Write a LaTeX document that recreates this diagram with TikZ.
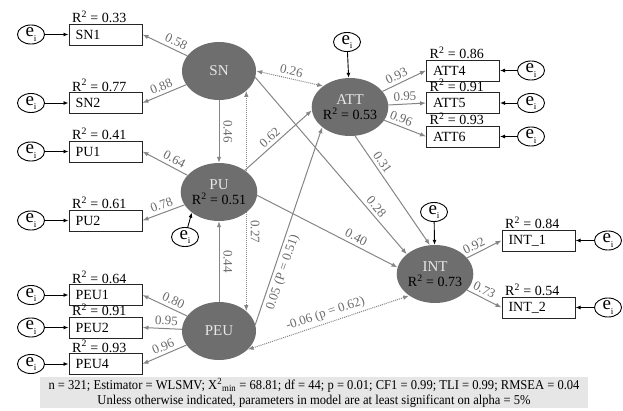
\documentclass[tikz,border=0pt]{standalone}
\usepackage{fontspec}
\setmainfont{Liberation Serif}
\newfontfamily\condfont[FakeStretch=0.93]{Liberation Serif}
\usetikzlibrary{arrows.meta,shapes.geometric,backgrounds}
\definecolor{latfill}{HTML}{6E6E6E}
\definecolor{latname}{HTML}{E8E8E8}
\definecolor{pathgray}{HTML}{858585}
\definecolor{labgray}{HTML}{6A6A6A}
\definecolor{footfill}{HTML}{E6E6E6}
\newcommand\errlab{{\fontsize{19}{19}\selectfont e}\raisebox{-4.5pt}{\fontsize{9}{9}\selectfont i}}
\newcommand\lname[1]{{\fontsize{15}{15}\selectfont\textcolor{latname}{#1}}}
\newcommand\rsq[1]{R\textsuperscript{2} = #1}
\begin{document}
\begin{tikzpicture}[x=1pt,y=-1pt,
  lat/.style={ellipse, fill=latfill, minimum width=74pt, minimum height=58pt, inner sep=0pt, align=center, font=\fontsize{14}{15}\selectfont},
  obs/.style={draw=black!85, line width=1pt, rectangle, minimum height=21pt, text width=60pt, inner xsep=6.5pt, inner ysep=0pt, align=left, font=\fontsize{14}{14}\selectfont},
  rlab/.style={anchor=south west, inner sep=0pt, xshift=3.5pt, yshift=0.5pt, font=\fontsize{14}{14}\selectfont},
  err/.style={ellipse, draw=black, line width=0.9pt, minimum width=27pt, minimum height=19pt, inner sep=0pt},
  pth/.style={draw=pathgray, line width=1pt, -{Latex[length=6pt,width=4.5pt]}},
  cov/.style={draw=pathgray, line width=1pt, densely dotted, {Latex[length=6pt,width=4.5pt]}-{Latex[length=6pt,width=4.5pt]}},
  earr/.style={draw=black, line width=0.9pt, -{Latex[length=5pt,width=4pt]}},
  coef/.style={text=labgray, font=\fontsize{13}{13}\selectfont, inner sep=3pt},
  coefv/.style={coef, rotate=-90, anchor=south, inner ysep=4pt},
]
\useasboundingbox (0,0) rectangle (623,410);

% latent variables
\node[lat] (SN) at (219,71) {\lname{SN}};
\node[lat] (PU) at (219,192) {\lname{PU}\\\rsq{0.51}};
\node[lat] (PEU) at (219,331) {\lname{PEU}};
\node[lat] (ATT) at (350,107) {\lname{ATT}\\\rsq{0.53}};
\node[lat] (INT) at (435,274) {\lname{INT}\\\rsq{0.73}};

% indicators
\node[obs, label={[rlab]north west:\rsq{0.33}}] (SN1) at (105.5,34.5) {SN1};
\node[obs, label={[rlab]north west:\rsq{0.77}}] (SN2) at (105.5,103) {SN2};
\node[obs, label={[rlab]north west:\rsq{0.41}}] (PU1) at (105.5,151.5) {PU1};
\node[obs, label={[rlab]north west:\rsq{0.61}}] (PU2) at (105.5,220.5) {PU2};
\node[obs, label={[rlab]north west:\rsq{0.64}}] (PEU1) at (105.5,295) {PEU1};
\node[obs, label={[rlab]north west:\rsq{0.91}}] (PEU2) at (105.5,327.5) {PEU2};
\node[obs, label={[rlab]north west:\rsq{0.93}}] (PEU4) at (105.5,364) {PEU4};
\node[obs, label={[rlab]north west:\rsq{0.86}}] (ATT4) at (463,70.5) {ATT4};
\node[obs, label={[rlab]north west:\rsq{0.91}}] (ATT5) at (463,103) {ATT5};
\node[obs, label={[rlab]north west:\rsq{0.93}}] (ATT6) at (463,136.5) {ATT6};
\node[obs, label={[rlab]north west:\rsq{0.84}}] (INTa) at (538.5,240.5) {INT\_1};
\node[obs, label={[rlab]north west:\rsq{0.54}}] (INTb) at (538.5,307.5) {INT\_2};

% error terms
\node[err] (eSN1) at (31,34.5) {\errlab};
\node[err] (eSN2) at (31,103) {\errlab};
\node[err] (ePU1) at (31,151.5) {\errlab};
\node[err] (ePU2) at (31,220.5) {\errlab};
\node[err] (ePEU1) at (31,295) {\errlab};
\node[err] (ePEU2) at (31,327.5) {\errlab};
\node[err] (ePEU4) at (31,364) {\errlab};
\node[err] (eATT4) at (531,70.5) {\errlab};
\node[err] (eATT5) at (531,103) {\errlab};
\node[err] (eATT6) at (531,136.5) {\errlab};
\node[err] (eINTa) at (608,240.5) {\errlab};
\node[err] (eINTb) at (608,307.5) {\errlab};
\node[err] (eATT) at (347,42) {\errlab};
\node[err] (eINT) at (434,212) {\errlab};
\node[err] (ePU) at (185,237) {\errlab};

% footer
\node[fill=footfill, minimum width=548pt, minimum height=31pt, inner sep=0pt, align=center, font=\condfont\fontsize{13.5}{15}\selectfont] (foot) at (314,392.5)
  {n = 321; Estimator = WLSMV; X\textsuperscript{2}\textsubscript{min} = 68.81; df = 44; p = 0.01; CF1 = 0.99; TLI = 0.99; RMSEA = 0.04\\
   Unless otherwise indicated, parameters in model are at least significant on alpha = 5\%};

\begin{scope}[on background layer]
% error arrows
\draw[earr] (eSN1) -- (SN1);
\draw[earr] (eSN2) -- (SN2);
\draw[earr] (ePU1) -- (PU1);
\draw[earr] (ePU2) -- (PU2);
\draw[earr] (ePEU1) -- (PEU1);
\draw[earr] (ePEU2) -- (PEU2);
\draw[earr] (ePEU4) -- (PEU4);
\draw[earr] (eATT4) -- (ATT4);
\draw[earr] (eATT5) -- (ATT5);
\draw[earr] (eATT6) -- (ATT6);
\draw[earr] (eINTa) -- (INTa);
\draw[earr] (eINTb) -- (INTb);
\draw[earr] (eATT) -- (ATT);
\draw[earr] (eINT) -- (INT);
\draw[earr] (ePU) -- (PU.south west);

% loadings
\draw[pth] (SN) -- node[coef, sloped, above, pos=0.32]{0.58} (SN1.east);
\draw[pth] (SN) -- node[coef, sloped, above, pos=0.5]{0.88} (SN2.east);
\draw[pth] (PU) -- node[coef, sloped, above, pos=0.37]{0.64} (PU1.east);
\draw[pth] (PU) -- node[coef, sloped, above, pos=0.48]{0.78} (PU2.east);
\draw[pth] (PEU) -- node[coef, sloped, above, pos=0.38]{0.80} (PEU1.east);
\draw[pth] (PEU) -- node[coef, sloped, above, pos=0.4]{0.95} (PEU2.east);
\draw[pth] (PEU) -- node[coef, sloped, above, pos=0.46]{0.96} (PEU4.east);
\draw[pth] (ATT) -- node[coef, sloped, above, pos=0.4]{0.93} (ATT4.west);
\draw[pth] (ATT) -- node[coef, sloped, above, pos=0.45]{0.95} (ATT5.west);
\draw[pth] (ATT) -- node[coef, sloped, above, pos=0.34]{0.96} (ATT6.west);
\draw[pth] (INT) -- node[coef, sloped, above, pos=0.3]{0.92} (INTa.west);
\draw[pth] (INT) -- node[coef, sloped, above, pos=0.4]{0.73} (INTb.west);

% structural paths
\draw[pth] (SN) -- node[coefv, pos=0.5]{0.46} (PU);
\draw[pth] (PEU) -- node[coefv, pos=0.5]{0.44} (PU);
\draw[cov] (SN.-36.3) -- node[coefv, pos=0.64]{0.27} (PEU.36.3);
\draw[cov] (SN.east) -- node[coef, sloped, above, pos=0.5]{0.26} (ATT.142);
\draw[pth] (PU.40) -- node[coef, sloped, above, pos=0.45]{0.62} (ATT.185);
\draw[pth] (SN.-10) -- node[coef, sloped, above, pos=0.76]{0.28} (INT.145);
\draw[pth] (ATT.-80) -- node[coef, sloped, above, pos=0.28]{0.31} (INT.100);
\draw[pth] (PU.-5) -- node[coef, sloped, above, pos=0.68]{0.40} (INT.170);
\draw[pth] (PEU.10) -- node[coef, sloped, below, pos=0.28]{0.05 (P = 0.51)} (ATT.216);
\draw[cov] (PEU.-33) -- node[coef, sloped, above, pos=0.5]{-0.06 (p = 0.62)} (INT.220);
\end{scope}
\end{tikzpicture}
\end{document}
